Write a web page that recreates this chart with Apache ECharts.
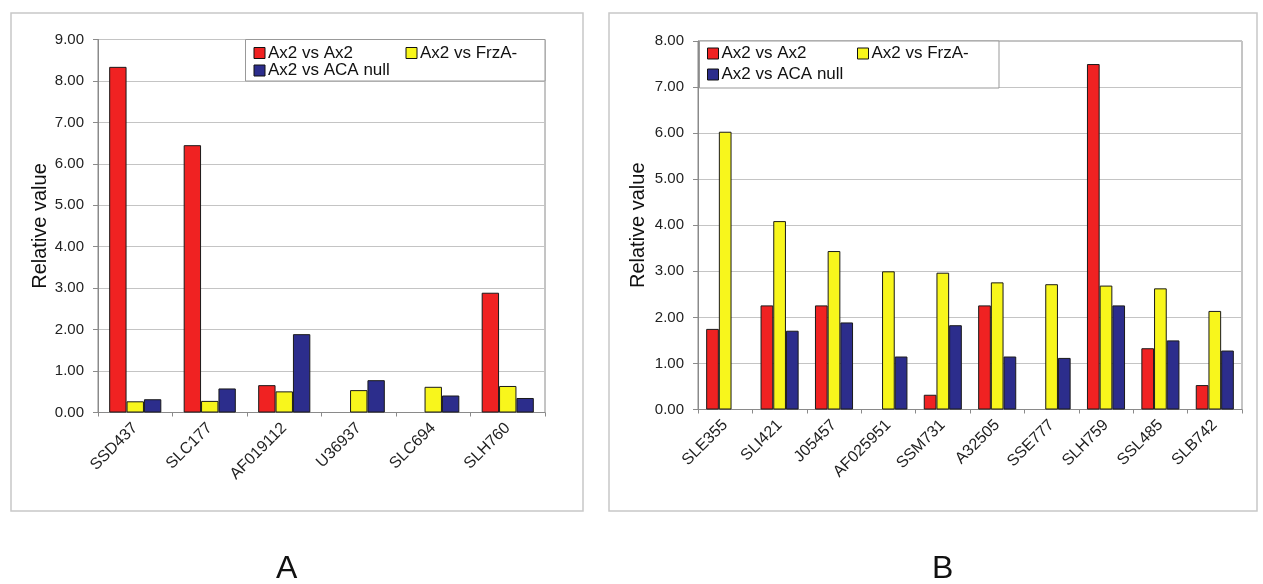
<!DOCTYPE html>
<html>
<head>
<meta charset="utf-8">
<script src="https://cdn.jsdelivr.net/npm/echarts@6/dist/echarts.min.js"></script>
<style>
html,body{margin:0;padding:0;background:#fff;}
#c{width:1263px;height:584px;}
</style>
</head>
<body>
<div id="c"></div>
<script>
// ---- data ----
const seriesNames = ['Ax2 vs Ax2', 'Ax2 vs FrzA-', 'Ax2 vs ACA null'];
const catsA = ['SSD437', 'SLC177', 'AF019112', 'U36937', 'SLC694', 'SLH760'];
const aAx2 = [8.34, 6.45, 0.66, null, null, 2.89];
const aFrz = [0.27, 0.28, 0.51, 0.54, 0.62, 0.64];
const aAca = [0.32, 0.58, 1.89, 0.78, 0.41, 0.35];

const catsB = ['SLE355', 'SLI421', 'J05457', 'AF025951', 'SSM731', 'A32505', 'SSE777', 'SLH759', 'SSL485', 'SLB742'];
const bAx2 = [1.75, 2.26, 2.26, null, 0.32, 2.26, null, 7.50, 1.33, 0.53];
const bFrz = [6.03, 4.09, 3.44, 3.00, 2.97, 2.76, 2.72, 2.69, 2.63, 2.14];
const bAca = [null, 1.71, 1.89, 1.15, 1.83, 1.15, 1.12, 2.26, 1.50, 1.28];

const yTitle = 'Relative value';
const panelLabels = ['A', 'B'];

// ---- style ----
const FONT = '"Liberation Sans", Arial, sans-serif';
const colors = ['#f02222', '#f8f61c', '#2c2d8c'];
const gridLineColor = '#c4c4c4';
const axisColor = '#8a8a8a';

const chart = echarts.init(document.getElementById('c'), null, {renderer: 'canvas'});

function yAxisFor(gridIndex, max, gap) {
  return {
    type: 'value', gridIndex: gridIndex, min: 0, max: max, interval: 1,
    name: yTitle, nameLocation: 'middle', nameGap: gap, nameRotate: 90,
    nameTextStyle: {fontFamily: FONT, fontSize: 20, color: '#111'},
    axisLine: {show: true, lineStyle: {color: axisColor, width: 1}},
    axisTick: {show: true, length: 5, lineStyle: {color: axisColor}},
    axisLabel: {fontFamily: FONT, fontSize: 15, color: '#222', margin: 14,
      formatter: v => v.toFixed(2)},
    splitLine: {show: true, lineStyle: {color: gridLineColor, width: 1}}
  };
}
function xAxisFor(gridIndex, cats) {
  return {
    type: 'category', gridIndex: gridIndex, data: cats,
    axisLine: {show: true, lineStyle: {color: axisColor, width: 1}},
    axisTick: {show: true, length: 4, lineStyle: {color: axisColor}},
    axisLabel: {fontFamily: FONT, fontSize: 16, color: '#222', rotate: 45, margin: 13, interval: 0}
  };
}
function barSeries(name, idx, axisIdx, data, gapPct) {
  return {
    type: 'bar', name: name, xAxisIndex: axisIdx, yAxisIndex: axisIdx, data: data,
    barGap: '0%', barCategoryGap: gapPct,
    itemStyle: {color: colors[idx], borderColor: '#1a1a1a', borderWidth: 1},
    emphasis: {disabled: true}, animation: false
  };
}
function legendItem(name, left, top) {
  return {
    data: [name], left: left, top: top, padding: 0, itemWidth: 11, itemHeight: 11,
    itemGap: 0, z: 10, selectedMode: false,
    icon: 'rect',
    itemStyle: {borderColor: '#111', borderWidth: 1},
    textStyle: {fontFamily: FONT, fontSize: 17, color: '#111', padding: [0, 0, 0, -2]}
  };
}

const option = {
  backgroundColor: '#ffffff',
  animation: false,
  grid: [
    {left: 98, top: 39.5, width: 447, height: 373, show: true, borderColor: axisColor, borderWidth: 1, containLabel: false},
    {left: 698, top: 41, width: 544, height: 368.5, show: true, borderColor: axisColor, borderWidth: 1, containLabel: false}
  ],
  xAxis: [xAxisFor(0, catsA), xAxisFor(1, catsB)],
  yAxis: [yAxisFor(0, 9, 47), yAxisFor(1, 8, 50)],
  legend: [
    legendItem(seriesNames[0], 253.5, 44.5),
    legendItem(seriesNames[1], 405.5, 44.5),
    legendItem(seriesNames[2], 253.5, 62),
    legendItem(seriesNames[0], 707, 45),
    legendItem(seriesNames[1], 857, 45),
    legendItem(seriesNames[2], 707, 66)
  ],
  graphic: [
    {type: 'rect', shape: {x: 11, y: 13, width: 572, height: 498}, style: {fill: 'none', stroke: '#c8c8c8', lineWidth: 1.5}, z: 0, silent: true},
    {type: 'rect', shape: {x: 609, y: 13, width: 648, height: 498}, style: {fill: 'none', stroke: '#c8c8c8', lineWidth: 1.5}, z: 0, silent: true},
    {type: 'rect', shape: {x: 245.5, y: 39.5, width: 299.5, height: 41.5}, style: {fill: '#fff', stroke: '#999', lineWidth: 1}, z: 8, silent: true},
    {type: 'rect', shape: {x: 699.5, y: 41, width: 299.5, height: 47}, style: {fill: '#fff', stroke: '#999', lineWidth: 1}, z: 8, silent: true},
    {type: 'text', left: 276, top: 553, style: {text: panelLabels[0], fontFamily: FONT, fontSize: 32, fill: '#111'}, z: 10},
    {type: 'text', left: 932, top: 553, style: {text: panelLabels[1], fontFamily: FONT, fontSize: 32, fill: '#111'}, z: 10}
  ],
  series: [
    barSeries(seriesNames[0], 0, 0, aAx2, '30%'),
    barSeries(seriesNames[1], 1, 0, aFrz, '30%'),
    barSeries(seriesNames[2], 2, 0, aAca, '30%'),
    barSeries(seriesNames[0], 0, 1, bAx2, '30%'),
    barSeries(seriesNames[1], 1, 1, bFrz, '30%'),
    barSeries(seriesNames[2], 2, 1, bAca, '30%')
  ]
};
chart.setOption(option);
</script>
</body>
</html>
